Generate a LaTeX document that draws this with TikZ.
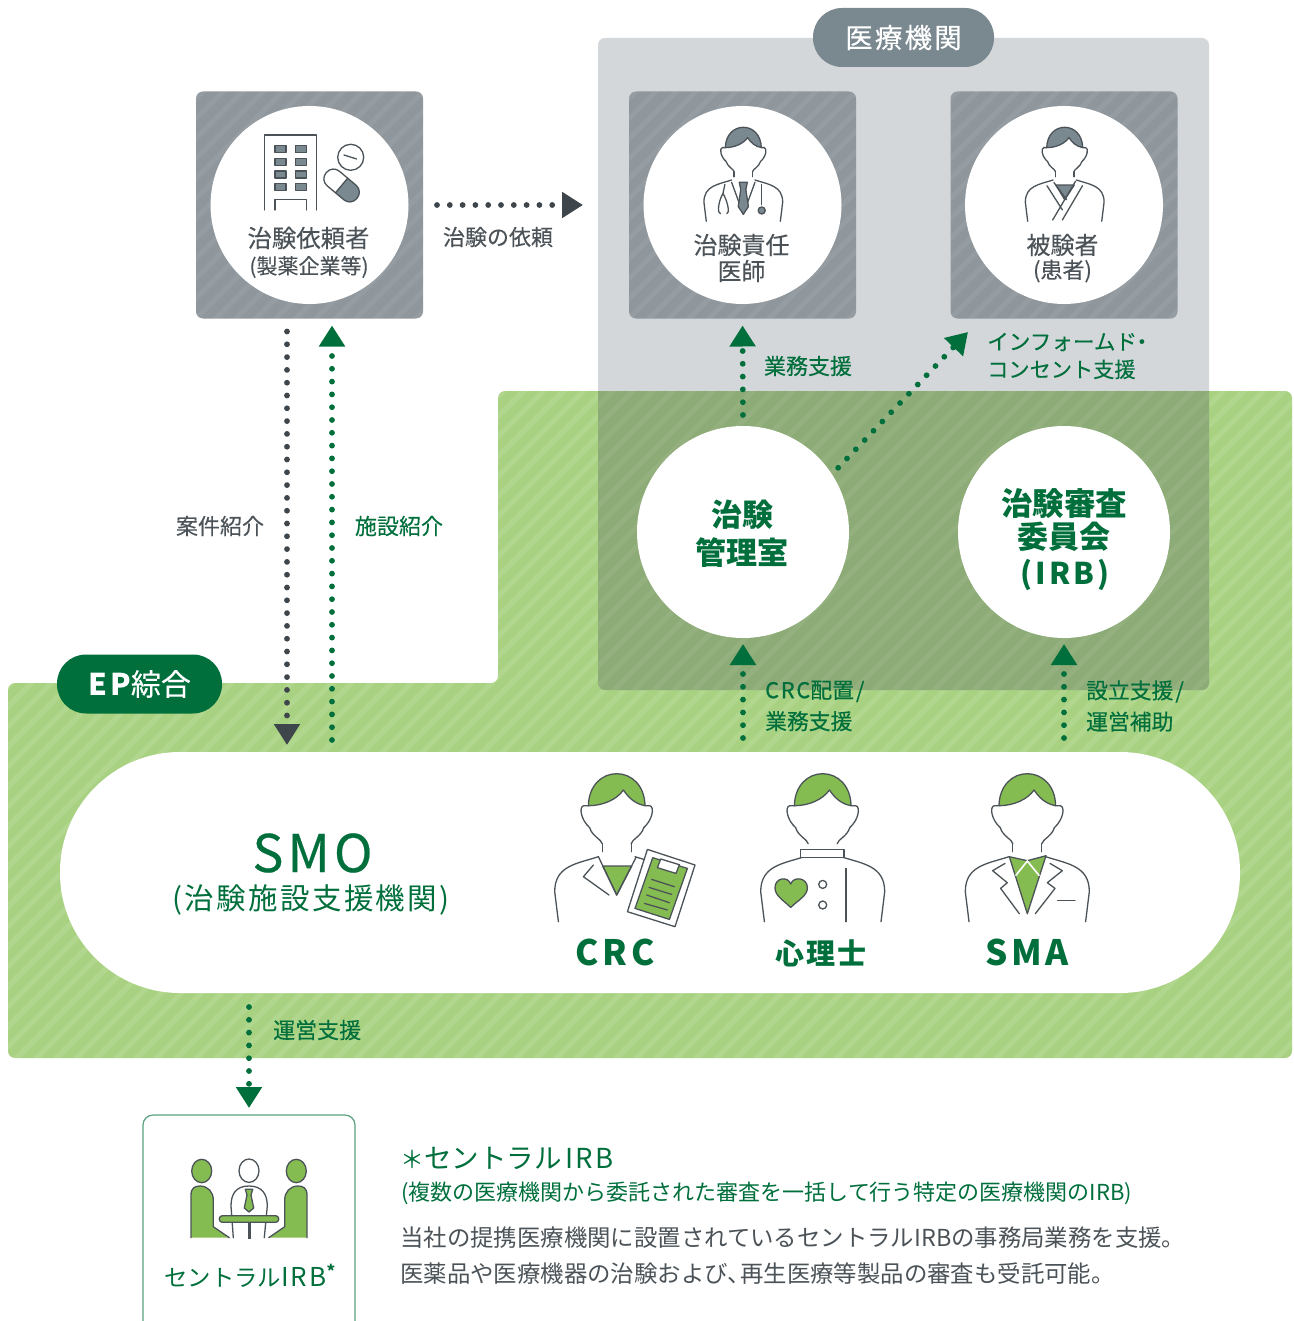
\documentclass[tikz,border=0pt]{standalone}
\usepackage{fontspec}
\setmainfont{Noto Sans CJK JP}
\newfontfamily\softfont[FakeBold=0.12]{Noto Sans CJK JP}
\newfontfamily\midfont[FakeBold=0.25]{Noto Sans CJK JP}
\newfontfamily\widefont[LetterSpace=8]{Noto Sans CJK JP}
\newfontfamily\widemid[LetterSpace=8, FakeBold=0.4]{Noto Sans CJK JP}
\newfontfamily\widebold[LetterSpace=11]{Noto Sans CJK JP}
\usetikzlibrary{arrows.meta, positioning}
\definecolor{epdark}{HTML}{006F3C}
\definecolor{eplight}{HTML}{A8D281}
\definecolor{epmix}{HTML}{8CAB76}
\definecolor{leaf}{HTML}{85BC52}
\definecolor{slate}{HTML}{8F979D}
\definecolor{pale}{HTML}{D3D7DA}
\definecolor{steel}{HTML}{7A8890}
\definecolor{ink}{HTML}{3E464B}
\definecolor{copy}{HTML}{4B5358}
\newcommand{\fs}[1]{\fontsize{#1}{#1}\selectfont}
\newcommand{\personhead}[1]{
	\draw[iconline, fill=#1] (-28.3,32) .. controls (-28,12) and (-15,0) .. (0,0) .. controls (15,0) and (28,12) .. (28.3,32) .. controls (18,30) and (12,24) .. (6.7,16.3) .. controls (0,26) and (-14,32) .. (-28.3,32) -- cycle;
	\draw[iconline] (-28.3,32) -- (-33,32) .. controls (-38,33) and (-36,46) .. (-27,54) .. controls (-25,62) and (-15,66) .. (-14.5,70);
	\draw[iconline] (28.3,32) -- (33,32) .. controls (38,33) and (36,46) .. (27,54) .. controls (25,62) and (15,66) .. (14.5,70);
}
\newcommand{\personbody}{
	\draw[iconline] (-18.3,83) .. controls (-40,90) and (-62,92) .. (-62,118) -- (-58.3,148);
	\draw[iconline] (18.3,83) .. controls (40,90) and (62,92) .. (62,118) -- (58.3,148);
}
\newcommand{\personneck}{
	\draw[iconline] (-14.5,70) -- (-14.5,78) (14.5,70) -- (14.5,78);
}
\tikzset{
	iconline/.style={draw=copy, line width=1.3pt, line cap=round, line join=round},
	striped/.style={path picture={
		\begin{scope}[shift={(path picture bounding box.center)}]
			\foreach \k in {-1500,-1480,...,1500}
				\draw[white, opacity=#1, line width=5pt] (\k-800,800) -- (\k+800,-800);
		\end{scope}}},
	tile/.style={rectangle, rounded corners=7pt, fill=slate, striped=0.06, minimum size=227pt, inner sep=0pt, outer sep=0pt},
	bubble/.style={circle, fill=white, inner sep=0pt, outer sep=0pt},
	badge/.style={rectangle, rounded corners=29pt, minimum height=59pt, inner sep=0pt, text=white},
	greydots/.style={draw=ink, line width=5.8pt, line cap=round, dash pattern=on 0pt off 12.8pt, -{Triangle[length=21pt, width=25pt]}},
	greendots/.style={greydots, draw=epdark},
	greylabel/.style={text=copy, align=center, inner sep=0pt},
	greenlabel/.style={text=epdark, align=left, inner sep=0pt},
	doctor/.pic={
		\personhead{steel}\personneck\personbody
		\draw[iconline] (-18.4,86.6) -- (0,137) -- (18.4,86.6);
		\draw[iconline, fill=steel] (-6.3,86.6) -- (6.3,86.6) -- (4,98) -- (8,125) -- (0,137) -- (-8,125) -- (-4,98) -- cycle;
		\draw[iconline] (-29,90) -- (-32,104) .. controls (-40,118) and (-41,136) .. (-36,136) (-32,104) .. controls (-24,118) and (-21,136) .. (-26,136);
		\draw[iconline] (29,90) -- (29,122);
		\draw[iconline, fill=steel] (29,131) circle (5.6pt);
	},
	patient/.pic={
		\personhead{steel}\personneck\personbody
		\draw[iconline, fill=steel] (-14,91) -- (15,91) -- (0,114) -- cycle;
		\draw[iconline] (-28,92) -- (-3.7,130) (-17,87) -- (3,114) (28,92) -- (-3.7,146) (17,85) -- (-19,146);
	},
	crcstaff/.pic={
		\personhead{leaf}\personneck\personbody
		\draw[iconline, fill=leaf] (-14,92.3) -- (15,92.3) -- (0,121.3) -- cycle;
		\draw[iconline] (-18.3,83) -- (0,121.3) -- (19.3,83.7);
		\draw[iconline] (-23.3,91.3) -- (-33.3,103) -- (-7.7,121.3);
		\draw[iconline, fill=white] (30.7,75.7) -- (78.3,91.3) -- (58.3,153) -- (10.7,138) -- cycle;
		\draw[iconline, fill=leaf] (36,84) -- (70.7,94.7) -- (52.7,145.7) -- (18.3,134.7) -- cycle;
		\draw[iconline, fill=white] (44,85.3) -- (62.7,91) -- (59.3,99.7) -- (40.7,94) -- cycle;
		\foreach \a/\b/\c/\d in {35/105.7/57.7/113, 32.3/113.7/55/120.7, 30/121.3/52.7/129, 27.7/129.7/50.7/136.3}
			\draw[iconline] (\a,\b) -- (\c,\d);
	},
	psychstaff/.pic={
		\personhead{leaf}\personbody
		\draw[iconline, fill=white] (-22,75.7) rectangle (21.3,83.7);
		\draw[iconline] (23.3,94.7) -- (23.3,148);
		\draw[iconline] (0,110.7) circle (4pt) (0,131.3) circle (4pt);
		\draw[iconline, fill=leaf] (-32,133.7) .. controls (-40,126) and (-47.7,122) .. (-47.7,114) .. controls (-47.7,104) and (-35,102) .. (-32,110.3) .. controls (-29,102) and (-15.3,104) .. (-15.3,114) .. controls (-15.3,122) and (-24,126) .. (-32,133.7) -- cycle;
	},
	smastaff/.pic={
		\personhead{leaf}\personneck\personbody
		\draw[iconline, fill=leaf] (-18,83) -- (0,87) -- (18.7,82) -- (0,140) -- cycle;
		\draw[white, line width=1.6pt] (-11.7,102) -- (0,87.3) -- (12,102);
		\draw[iconline] (-22.3,89.7) -- (-34.7,97) -- (-20,109) -- (-26.7,114.7) -- (-8,140);
		\draw[iconline] (22.7,89.7) -- (35,97) -- (20,109) -- (27.7,114.7) -- (8,140);
		\draw[iconline] (30.3,127) -- (47.7,127);
	},
}
\begin{document}
\begin{tikzpicture}[x=1pt, y=-1pt]
	\useasboundingbox (0,0) rectangle (1293,1321);

	\node[rectangle, rounded corners=7pt, fill=pale, minimum width=611pt, minimum height=652pt, inner sep=0pt, outer sep=0pt] (hospital) at (903.5,364) {};
	\fill[eplight, striped=0.11, rounded corners=7pt] (8,683) -- (498,683) -- (498,391) -- (1292,391) -- (1292,1058) -- (8,1058) -- cycle;
	\fill[epmix, striped=0.07] (598,391) -- (1209,391) [rounded corners=7pt] -- (1209,690) -- (598,690) [sharp corners] -- cycle;

	\node[badge, fill=steel, minimum width=181pt] (hospitalname) at (903.5,37.5) {\fs{27.5}\widemid 医療機関};
	\node[badge, fill=epdark, minimum width=165pt] (epname) at (139.5,684) {\fs{30}{\bfseries\widebold EP}{\midfont 綜合}};

	\node[tile] (sponsor) at (309.5,205) {};
	\node[tile] (doctorbox) at (742.5,205) {};
	\node[tile] (patientbox) at (1064,205) {};
	\node[bubble, minimum size=198pt] (sponsorc) at (sponsor) {};
	\node[bubble, minimum size=198pt] (doctorc) at (doctorbox) {};
	\node[bubble, minimum size=198pt] (patientc) at (patientbox) {};
	\node[bubble, minimum size=212pt] (office) at (743,532) {};
	\node[bubble, minimum size=212pt] (irb) at (1064,532) {};
	\node[rectangle, rounded corners=120pt, fill=white, minimum width=1180pt, minimum height=241pt, inner sep=0pt, outer sep=0pt] (smo) at (650,872.5) {};
	\node[rectangle, rounded corners=10pt, draw=epdark!65, line width=1.2pt, fill=white, minimum width=212pt, minimum height=240pt, inner sep=0pt, outer sep=0pt] (central) at (249,1235) {};

	\draw[iconline] (264.3,210) -- (264.3,135) -- (316.7,135) -- (316.7,210);
	\draw[iconline] (275,210) -- (275,199.3) -- (306.7,199.3) -- (306.7,210);
	\foreach \wy in {145.7,158.3,171,183.3}
		\foreach \wx in {275,295.3}
			\draw[iconline, fill=steel] (\wx,\wy) rectangle (\wx+11,\wy+7);
	\draw[iconline] (350.7,157.3) circle (13pt);
	\draw[iconline] (344,155) -- (356.7,159);
	\begin{scope}[shift={(341.6,185.5)}, rotate=-40]
		\begin{scope}
			\clip (0,-14) rectangle (24,14);
			\fill[steel, rounded corners=9pt] (-20,-9.5) rectangle (20,9.5);
		\end{scope}
		\draw[iconline, rounded corners=9pt] (-20,-9.5) rectangle (20,9.5);
		\draw[iconline] (0,-9.5) -- (0,9.5);
	\end{scope}

	\pic[scale=0.635] at (743.3,127.3) {doctor};
	\pic[scale=0.635] at (1064.7,127.3) {patient};
	\pic at (616.7,773.7) {crcstaff};
	\pic at (822.7,773.7) {psychstaff};
	\pic at (1027.3,773.7) {smastaff};

	\draw[iconline, fill=leaf] (201.7,1171) ellipse (10pt and 11.7pt);
	\draw[iconline, fill=leaf] (296.3,1171) ellipse (10pt and 11.7pt);
	\draw[iconline] (249,1170.7) ellipse (10pt and 11.7pt);
	\fill[leaf] (191,1237.7) -- (191,1195) .. controls (191,1188) and (195,1186) .. (200,1186) .. controls (208,1186) and (213.3,1192) .. (213.3,1200) -- (213.3,1226.7) -- (229.3,1237.7) -- cycle;
	\fill[leaf] (307,1237.7) -- (307,1195) .. controls (307,1188) and (303,1186) .. (298,1186) .. controls (290,1186) and (284.7,1192) .. (284.7,1200) -- (284.7,1226.7) -- (268.7,1237.7) -- cycle;
	\draw[iconline] (229.3,1237.7) -- (213.3,1226.7) -- (213.3,1200) .. controls (213.3,1192) and (208,1186) .. (200,1186) .. controls (195,1186) and (191,1188) .. (191,1195) -- (191,1237.7);
	\draw[iconline] (268.7,1237.7) -- (284.7,1226.7) -- (284.7,1200) .. controls (284.7,1192) and (290,1186) .. (298,1186) .. controls (303,1186) and (307,1188) .. (307,1195) -- (307,1237.7);
	\draw[iconline] (233.3,1237.7) -- (231,1206) .. controls (231,1194) and (236,1186) .. (249,1186) .. controls (262,1186) and (267.3,1194) .. (267.3,1206) -- (264.3,1237.7);
	\draw[iconline, fill=leaf] (245.3,1189.3) -- (252.7,1189.3) -- (251,1195) -- (253.7,1208) -- (249,1212) -- (244.3,1208) -- (247,1195) -- cycle;
	\draw[iconline, fill=leaf, rounded corners=3pt] (219.3,1215.7) rectangle (278.7,1222.3);
	\draw[copy, line width=3pt] (249,1222.3) -- (249,1239);

	\node[greylabel, font=\fs{24.4}\softfont] (sponsorname) at (308.5,238) {治験依頼者};
	\node[greylabel, font=\fs{21}\softfont] (sponsornote) at (309,267) {(製薬企業等)};
	\node[greylabel, font=\fs{24}\softfont] (doctorname) at (741.5,245) {治験責任};
	\node[greylabel, font=\fs{24}\softfont] (doctorname2) at (741.5,271) {医師};
	\node[greylabel, font=\fs{24}\softfont] (patientname) at (1062.5,245) {被験者};
	\node[greylabel, font=\fs{22}\softfont] (patientnote) at (1062.5,271) {(患者)};

	\node[text=epdark, align=center, inner sep=0pt, font=\fs{31}\bfseries] (officename) at (742,534) {治験\\[7pt]管理室};
	\node[text=epdark, align=center, inner sep=0pt, font=\fs{31.5}\bfseries] (irbname) at (1064,504) {治験審査};
	\node[text=epdark, inner sep=0pt, font=\fs{31}\bfseries] (irbname2) at (1064,537) {委員会};
	\node[text=epdark, inner sep=0pt, font=\fs{30}\bfseries\widebold] (irbname3) at (1065,575) {(IRB)};

	\node[text=epdark, font=\fs{52}\widemid, inner sep=0pt] (smoname) at (312.5,853) {SMO};
	\node[text=epdark, font=\fs{29.5}\widefont, inner sep=0pt] (smonote) at (311,900) {(治験施設支援機関)};
	\node[text=epdark, font=\fs{35}\bfseries\widebold, inner sep=0pt] (crcname) at (615,952) {CRC};
	\node[text=epdark, font=\fs{29}\bfseries\widefont, inner sep=0pt] (psychname) at (821,953) {心理士};
	\node[text=epdark, font=\fs{35}\bfseries\widebold, inner sep=0pt] (smaname) at (1027,952) {SMA};
	\node[text=epdark, font=\fs{23.4}, inner sep=0pt, anchor=west] (centralname) at (164,1276) {セントラル{\widefont\fs{26}IRB}\textsuperscript{\bfseries *}};

	\draw[greydots, shorten <=14pt, shorten >=15pt] (sponsor.east) -- (sponsor.east -| hospital.west);
	\draw[greydots, shorten <=13pt, shorten >=7pt] ([xshift=-22.5pt]sponsor.south) -- ([xshift=-22.5pt]sponsor.south |- smo.north);
	\draw[greendots, shorten <=12pt, shorten >=7pt] ([xshift=22.5pt]sponsor.south |- smo.north) -- ([xshift=22.5pt]sponsor.south);
	\draw[greendots, shorten <=11pt, shorten >=7pt] (office.north) -- (doctorbox.south);
	\coordinate (consent) at (968,332);
	\draw[greendots, shorten <=9pt] (office.33) -- (consent);
	\draw[greendots, shorten <=14pt, shorten >=6pt] (office.south |- smo.north) -- (office.south);
	\draw[greendots, shorten <=14pt, shorten >=6pt] (irb.south |- smo.north) -- (irb.south);
	\draw[greendots, shorten <=14pt, shorten >=7pt] (central.north |- smo.south) -- (central.north);

	\node[greylabel, font=\fs{22}\midfont] (requestlbl) at (498,237) {治験の依頼};
	\node[greylabel, font=\fs{22}\midfont] (caselbl) at (220,526) {案件紹介};
	\node[greenlabel, font=\fs{22}\midfont] (sitelbl) at (399,526) {施設紹介};
	\node[greenlabel, font=\fs{22}\midfont] (dutylbl) at (808,366) {業務支援};
	\node[greenlabel, font=\fs{21.6}\midfont, anchor=west] (consentlbl) at (987,356) {インフォームド\hspace{-6pt}・\\[6pt]{\fs{21.2}コンセント支援}};
	\node[greenlabel, font=\fs{21.8}\midfont, anchor=west] (crclbl) at (765,706) {{\widemid CRC}配置\hspace{2pt}/\\[8pt]業務支援};
	\node[greenlabel, font=\fs{21.8}\midfont, anchor=west] (setuplbl) at (1086,706) {設立支援\hspace{2pt}/\\[8pt]運営補助};
	\node[greenlabel, font=\fs{22}\midfont, anchor=west] (runlbl) at (273,1030) {運営支援};

	\node[text=epdark, font=\fs{27.5}, inner sep=0pt, anchor=west] (notehead) at (400,1158) {{\fs{24}＊}セントラル\hspace{4pt}{\widefont IRB}};
	\node[text=epdark, font=\fs{22}, inner sep=0pt, anchor=west] (notesub) at (401,1193) {(複数の医療機関から委託された審査を一括して行う特定の医療機関のIRB)};
	\node[text=copy, font=\fs{23.4}, inner sep=0pt, anchor=west] (notebody) at (400,1238) {当社の提携医療機関に設置されているセントラルIRBの事務局業務を支援。};
	\node[text=copy, font=\fs{23.4}, inner sep=0pt, anchor=west] (notebody2) at (400,1274) {医薬品や医療機器の治験および、\hspace{-11pt}再生医療等製品の審査も受託可能。};
\end{tikzpicture}
\end{document}
